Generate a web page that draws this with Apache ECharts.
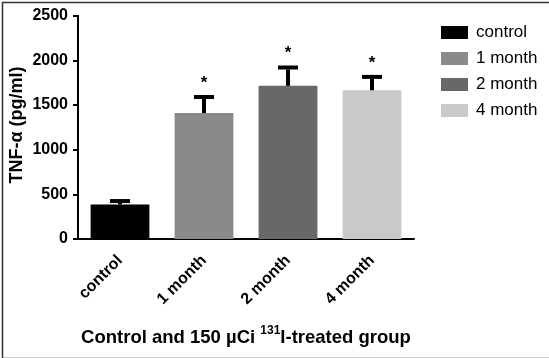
<!DOCTYPE html>
<html>
<head>
<meta charset="utf-8">
<script src="https://cdn.jsdelivr.net/npm/echarts@6/dist/echarts.min.js"></script>
<style>
html,body{margin:0;padding:0;background:#fff;}
#c{width:549px;height:358px;}
</style>
</head>
<body>
<div id="c"></div>
<script>
var categories = ['control', '1 month', '2 month', '4 month'];
var means = [385, 1410, 1715, 1665];
var errors = [40, 180, 205, 150];
var stars = ['', '*', '*', '*'];
var colors = ['#000000', '#8a8a8a', '#686868', '#c9c9c9'];
var yTicks = [0, 500, 1000, 1500, 2000, 2500];

var FONT = '"Liberation Sans", Arial, sans-serif';
var chart = echarts.init(document.getElementById('c'));

var barSeries = categories.map(function (name, i) {
  return {
    name: name,
    type: 'bar',
    barWidth: '70%',
    barGap: '-100%',
    itemStyle: { color: colors[i] },
    data: categories.map(function (c, j) { return j === i ? means[i] : '-'; }),
    z: 2
  };
});

var errData = categories.map(function (c, i) { return [i, means[i], errors[i]]; });

var errSeries = {
  type: 'custom',
  name: 'err',
  z: 3,
  data: errData,
  encode: { x: 0, y: [1] },
  renderItem: function (params, api) {
    var idx = api.value(0);
    var m = api.value(1);
    var e = api.value(2);
    var star = stars[idx];
    var base = api.coord([idx, m]);
    var top = api.coord([idx, m + e]);
    var half = 10;
    var children = [
      { type: 'line', shape: { x1: base[0], y1: base[1], x2: top[0], y2: top[1] + 2 }, style: { stroke: '#000', lineWidth: 4 } },
      { type: 'line', shape: { x1: top[0] - half, y1: top[1], x2: top[0] + half, y2: top[1] }, style: { stroke: '#000', lineWidth: 4 } }
    ];
    if (star) {
      children.push({
        type: 'text',
        style: { text: star, x: top[0], y: top[1] - 14, align: 'center', verticalAlign: 'middle', font: 'bold 17px ' + FONT, fill: '#000' }
      });
    }
    return { type: 'group', children: children };
  }
};

chart.setOption({
  animation: false,
  backgroundColor: '#fff',
  grid: { left: 78, right: 135, top: 15.7, bottom: 119, containLabel: false },
  legend: {
    data: categories,
    orient: 'vertical',
    left: 436,
    top: 19,
    icon: 'rect',
    itemWidth: 27,
    itemHeight: 13,
    itemGap: 9,
    textStyle: { fontFamily: FONT, fontSize: 17, color: '#000', padding: [0, 0, 0, 3] },
    selectedMode: false
  },
  xAxis: {
    type: 'category',
    data: categories,
    axisLine: { lineStyle: { color: '#000', width: 2 } },
    axisTick: { alignWithLabel: true, length: 6, lineStyle: { color: '#000', width: 2 } },
    axisLabel: { rotate: 45, fontFamily: FONT, fontWeight: 'bold', fontSize: 16, color: '#000', margin: 19 }
  },
  yAxis: {
    type: 'value',
    min: 0,
    max: 2500,
    interval: 500,
    splitLine: { show: false },
    axisLine: { show: true, lineStyle: { color: '#000', width: 2 } },
    axisTick: { show: true, length: 5, lineStyle: { color: '#000', width: 2 } },
    axisLabel: { fontFamily: FONT, fontWeight: 'bold', fontSize: 16, color: '#000', margin: 10,
      formatter: function (v) { return yTicks.indexOf(v) >= 0 ? String(v) : ''; } }
  },
  graphic: [
    { type: 'rect', left: 0, top: 0, shape: { x: 0.75, y: 0.75, width: 547.5, height: 356 }, style: { fill: 'none', stroke: '#333', lineWidth: 1.5 }, silent: true },
    { type: 'text', x: 17, y: 125, rotation: Math.PI / 2,
      style: { text: 'TNF-α (pg/ml)', font: 'bold 18px ' + FONT, fill: '#000', align: 'center', verticalAlign: 'middle' } },
    { type: 'text', x: 246, y: 336,
      style: {
        text: '{a|Control and 150 µCi }{s|131}{a|I-treated group}',
        align: 'center', verticalAlign: 'middle',
        rich: {
          a: { font: 'bold 18.5px ' + FONT, fill: '#000', lineHeight: 22, verticalAlign: 'bottom' },
          s: { font: 'bold 12px ' + FONT, fill: '#000', lineHeight: 22, verticalAlign: 'top' }
        }
      } }
  ],
  series: barSeries.concat([errSeries])
});
</script>
</body>
</html>
